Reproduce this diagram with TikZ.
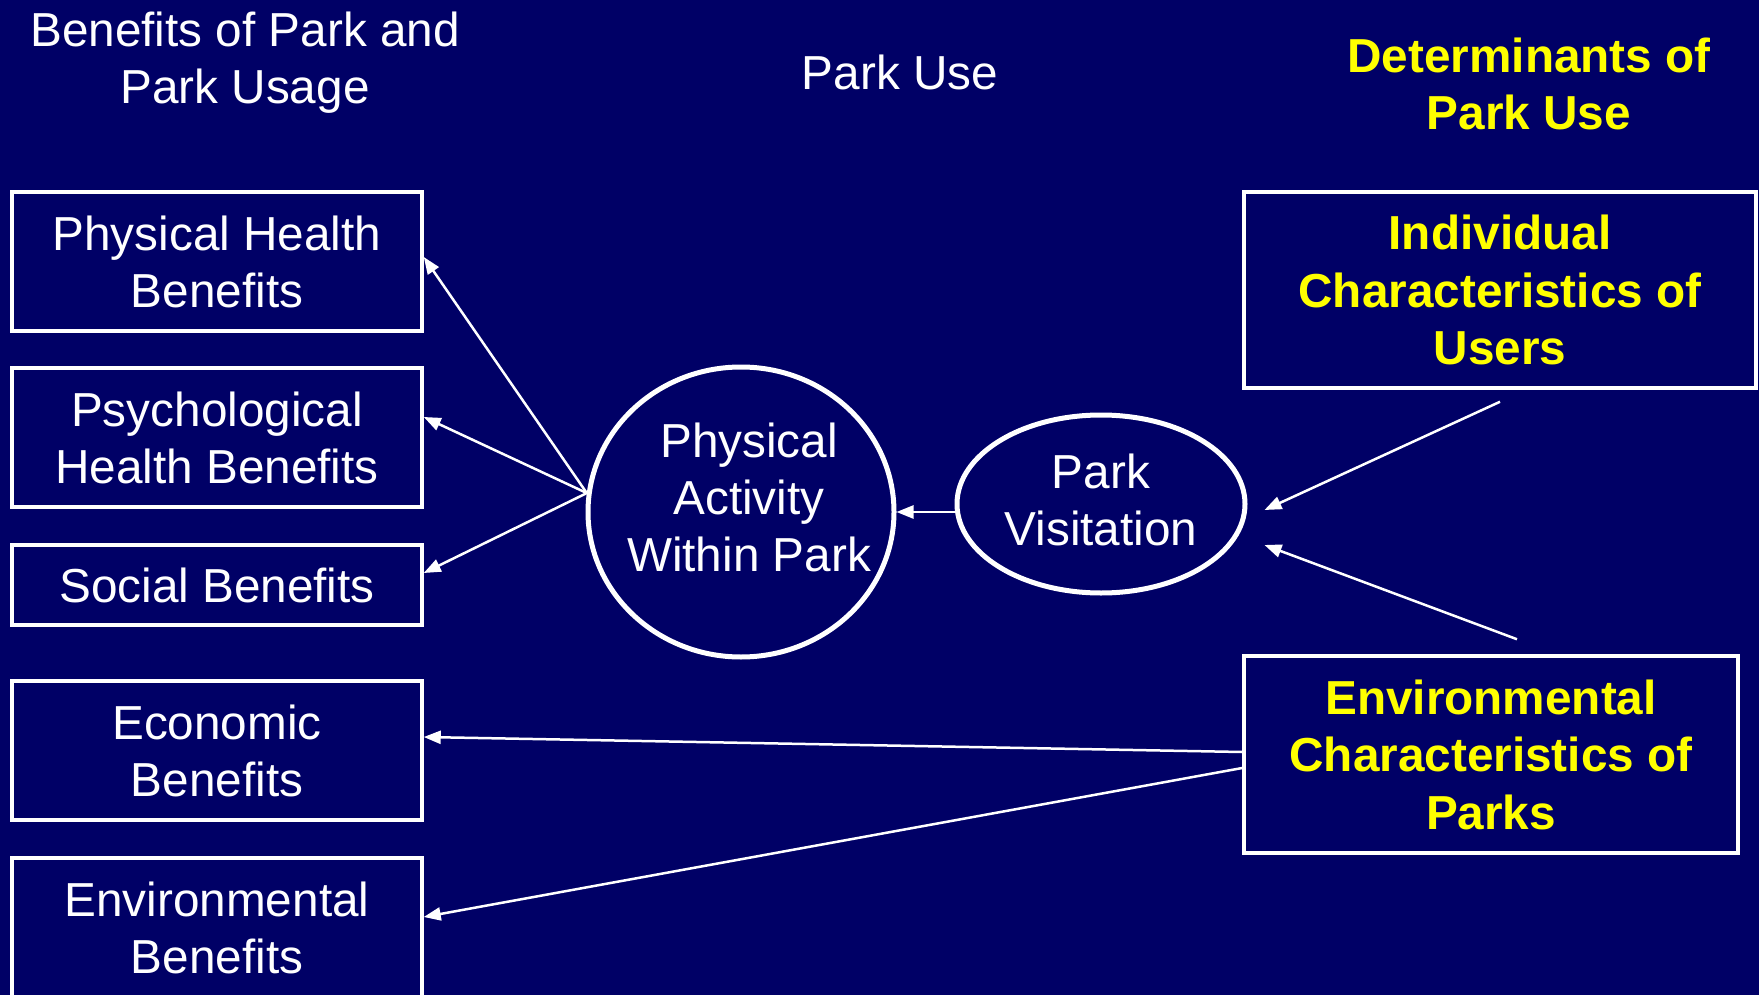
\documentclass[tikz,border=0pt]{standalone}
\usepackage{fontspec}
\setmainfont{Liberation Sans}
\usetikzlibrary{shapes.geometric,arrows.meta,calc}
\definecolor{bg}{RGB}{0,0,102}
\definecolor{ylw}{RGB}{255,255,0}
\begin{document}
\begin{tikzpicture}[x=1pt,y=-1pt,
 every node/.style={font=\fontsize{47.7}{57}\selectfont, text=white, align=center},
 bbox/.style={draw=white, line width=3.5pt, inner sep=0pt, minimum width=410pt},
 ybox/.style={draw=white, line width=3.5pt, inner sep=0pt, text=ylw, font=\fontsize{47.7}{57.5}\selectfont\bfseries},
 oval/.style={ellipse, draw=white, line width=5pt, inner sep=0pt},
 arr/.style={draw=white, line width=2.5pt, -{Triangle[length=17pt,width=13pt]}}]
\fill[bg] (0,0) rectangle (1759,995);
\useasboundingbox (0,0) rectangle (1759,995);

\node (t1) at (245,63) {Benefits of Park and\\Park Usage};
\node (t2) at (900,72) {Park Use};
\node[text=ylw, font=\fontsize{47.7}{57}\selectfont\bfseries] (t3) at (1529,84) {Determinants of\\Park Use};

\node[bbox, minimum height=139pt] (phys) at (217,261.5) {Physical Health\\Benefits};
\node[bbox, minimum height=139pt] (psych) at (217,437.5) {Psychological\\Health Benefits};
\node[bbox, minimum height=80pt] (soc) at (217,585) {Social Benefits};
\node[bbox, minimum height=139pt] (econ) at (217,750.5) {Economic\\Benefits};
\node[bbox, minimum height=139pt] (envb) at (217,927.5) {Environmental\\Benefits};

\node[oval, minimum width=306pt, minimum height=290pt] (pa) at (741,512) {};
\node (patext) at (749,497) {Physical\\Activity\\Within Park};
\node[oval, minimum width=288pt, minimum height=178pt] (pv) at (1101,504) {};
\node (pvtext) at (1101,500) {Park\\Visitation};

\node[ybox, minimum width=512pt, minimum height=196pt] (ind) at (1500,290) {Individual\\Characteristics of\\Users};
\node[ybox, minimum width=494pt, minimum height=197pt] (envc) at (1491,754.5) {Environmental\\Characteristics of\\Parks};

\draw[arr] (pa.173) -- ([yshift=4.5pt]phys.east);
\draw[arr] (pa.173) -- ([yshift=20.5pt]psych.east);
\draw[arr] (pa.173) -- ([yshift=12pt]soc.east);
\draw[arr] (pa.east -| pv.west) -- (pa.east);
\draw[arr] ([yshift=-12pt]ind.south) -- ([xshift=17pt,yshift=-6pt]pv.east);
\draw[arr] ([xshift=26pt,yshift=15pt]envc.north) -- ([xshift=17pt,yshift=-41pt]pv.east);
\draw[arr] ([yshift=2.5pt]envc.west) -- ([yshift=13.5pt]econ.east);
\draw[arr] ([yshift=-13.5pt]envc.west) -- ([yshift=10.5pt]envb.east);
\end{tikzpicture}
\end{document}
